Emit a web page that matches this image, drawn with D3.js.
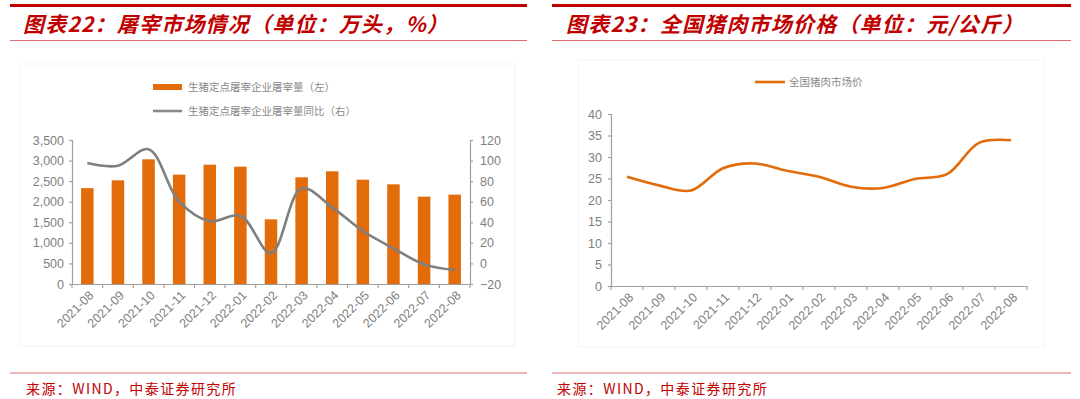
<!DOCTYPE html>
<html>
<head>
<meta charset="utf-8">
<script src="https://cdn.jsdelivr.net/npm/d3@7"></script>
<style>
  html, body { margin: 0; padding: 0; background: #fff; }
  svg { display: block; }
</style>
</head>
<body>
<svg id="chart" width="1080" height="399"></svg>
<script>
// ---- data ----
const categories = ['2021-08','2021-09','2021-10','2021-11','2021-12','2022-01','2022-02','2022-03','2022-04','2022-05','2022-06','2022-07','2022-08'];
const slaughterVolume = [2330, 2520, 3030, 2658, 2900, 2852, 1572, 2593, 2739, 2536, 2423, 2123, 2172];
const slaughterYoY = [97.6, 95, 111, 60, 41, 46.4, 10, 73, 54.5, 31.5, 14.7, -0.9, -6.4];
const porkPrice = [25.4, 23.4, 22.2, 27.4, 28.5, 26.8, 25.4, 23.1, 22.8, 24.9, 26.0, 33.3, 33.9];
const leftTicks = [0, 500, 1000, 1500, 2000, 2500, 3000, 3500];
const rightTicks = [-20, 0, 20, 40, 60, 80, 100, 120];
const priceTicks = [0, 5, 10, 15, 20, 25, 30, 35, 40];
const title1 = '图表22：屠宰市场情况（单位：万头，%）';
const title2 = '图表23：全国猪肉市场价格（单位：元/公斤）';
const legend1a = '生猪定点屠宰企业屠宰量（左）';
const legend1b = '生猪定点屠宰企业屠宰量同比（右）';
const legend2 = '全国猪肉市场价';
const source = '来源：WIND，中泰证券研究所';

const svg = d3.select('#chart');
const RED = '#c00000';
const LIGHTRED = '#e07070';
const ORANGE = '#e36c0a';
const AXIS = '#a0a0a0';
const TICKTXT = '#7f7f7f';
const NUMFONT = '"Liberation Sans", Arial, sans-serif';
const CJK = '"Noto Sans CJK SC", "Noto Sans", sans-serif';

function panelFrame(x0, x1, titleX, title, srcX) {
  svg.append('line').attr('x1', x0).attr('x2', x1).attr('y1', 5.5).attr('y2', 5.5)
    .attr('stroke', RED).attr('stroke-width', 3);
  svg.append('text').attr('x', titleX).attr('y', 32)
    .attr('font-family', CJK).attr('font-size', 21).attr('font-weight', 'bold')
    .attr('font-style', 'italic').attr('letter-spacing', 1.2).attr('fill', RED).text(title);
  svg.append('line').attr('x1', x0).attr('x2', x1).attr('y1', 40.5).attr('y2', 40.5)
    .attr('stroke', LIGHTRED).attr('stroke-width', 1.2);
  svg.append('line').attr('x1', x0).attr('x2', x1).attr('y1', 373).attr('y2', 373)
    .attr('stroke', LIGHTRED).attr('stroke-width', 1.2);
  svg.append('text').attr('x', srcX).attr('y', 394)
    .attr('font-family', CJK).attr('font-size', 14).attr('letter-spacing', 1.4).attr('fill', RED).text(source);
}

panelFrame(10, 527, 23, title1, 26);
panelFrame(552, 1071, 566, title2, 557);

// faint chart area boxes
svg.append('rect').attr('x', 20).attr('y', 64).attr('width', 495).attr('height', 282)
  .attr('fill', 'none').attr('stroke', '#f3f3f3');
svg.append('rect').attr('x', 578).attr('y', 60).attr('width', 466).attr('height', 287)
  .attr('fill', 'none').attr('stroke', '#f3f3f3');

function styleAxis(g) {
  g.selectAll('.domain').attr('stroke', AXIS).attr('stroke-width', 1.2);
  g.selectAll('.tick line').attr('stroke', AXIS).attr('stroke-width', 1.2);
  g.selectAll('.tick text').attr('fill', TICKTXT).attr('font-family', NUMFONT).attr('font-size', 12.5);
}

function xAxisBand(x, yPos) {
  const g = svg.append('g').attr('transform', `translate(0,${yPos})`);
  g.append('line').attr('x1', x.range()[0]).attr('x2', x.range()[1]).attr('y1', 0.5).attr('y2', 0.5)
    .attr('stroke', AXIS).attr('stroke-width', 1.2);
  const bounds = categories.map(c => x(c)).concat([x.range()[1]]);
  g.selectAll('line.tk').data(bounds).join('line').attr('class', 'tk')
    .attr('x1', d => d).attr('x2', d => d).attr('y1', 0).attr('y2', 4)
    .attr('stroke', AXIS).attr('stroke-width', 1.2);
  g.selectAll('text').data(categories).join('text')
    .attr('transform', d => `translate(${x(d) + x.bandwidth() / 2 + 4},${9}) rotate(-45)`)
    .attr('text-anchor', 'end').attr('dy', '0.35em')
    .attr('fill', TICKTXT).attr('font-family', NUMFONT).attr('font-size', 12.5)
    .text(d => d);
}

// ---- Left chart ----
(function () {
  const L = 72, R = 470, T = 140, B = 284;
  const x = d3.scaleBand().domain(categories).range([L, R]);
  const yL = d3.scaleLinear().domain([0, 3500]).range([B, T]);
  const yR = d3.scaleLinear().domain([-20, 120]).range([B, T]);
  const barW = 12.5;

  svg.append('g').selectAll('rect').data(categories).join('rect')
    .attr('x', d => x(d) + x.bandwidth() / 2 - barW / 2)
    .attr('y', (d, i) => yL(slaughterVolume[i]))
    .attr('width', barW)
    .attr('height', (d, i) => yL(0) - yL(slaughterVolume[i]))
    .attr('fill', ORANGE);

  const line = d3.line()
    .x((d, i) => x(categories[i]) + x.bandwidth() / 2)
    .y(d => yR(d))
    .curve(d3.curveCatmullRom.alpha(0.5));
  svg.append('path').datum(slaughterYoY).attr('d', line)
    .attr('fill', 'none').attr('stroke', '#7f7f7f').attr('stroke-width', 2.6);

  const ga = svg.append('g').attr('transform', `translate(${L},0)`)
    .call(d3.axisLeft(yL).tickValues(leftTicks).tickFormat(d3.format(',')).tickSizeOuter(0).tickSize(3).tickPadding(5));
  styleAxis(ga);
  const gb = svg.append('g').attr('transform', `translate(${R},0)`)
    .call(d3.axisRight(yR).tickValues(rightTicks).tickSizeOuter(0).tickSize(3).tickPadding(7));
  styleAxis(gb);
  xAxisBand(x, B);

  // legend
  svg.append('rect').attr('x', 153).attr('y', 84).attr('width', 29).attr('height', 6).attr('fill', ORANGE);
  svg.append('text').attr('x', 188).attr('y', 91).attr('font-family', CJK).attr('font-size', 10.5)
    .attr('fill', '#8a8a8a').text(legend1a);
  svg.append('line').attr('x1', 153).attr('x2', 182).attr('y1', 111).attr('y2', 111)
    .attr('stroke', '#8a8a8a').attr('stroke-width', 2.6);
  svg.append('text').attr('x', 188).attr('y', 115).attr('font-family', CJK).attr('font-size', 10.5)
    .attr('fill', '#8a8a8a').text(legend1b);
})();

// ---- Right chart ----
(function () {
  const L = 611, R = 1027, T = 114, B = 286;
  const x = d3.scaleBand().domain(categories).range([L, R]);
  const y = d3.scaleLinear().domain([0, 40]).range([B, T]);

  const line = d3.line()
    .x((d, i) => x(categories[i]) + x.bandwidth() / 2)
    .y(d => y(d))
    .curve(d3.curveCatmullRom.alpha(0.5));
  svg.append('path').datum(porkPrice).attr('d', line)
    .attr('fill', 'none').attr('stroke', ORANGE).attr('stroke-width', 2.6);

  const ga = svg.append('g').attr('transform', `translate(${L},0)`)
    .call(d3.axisLeft(y).tickValues(priceTicks).tickSizeOuter(0).tickSize(3).tickPadding(6));
  styleAxis(ga);
  xAxisBand(x, B);

  svg.append('line').attr('x1', 755).attr('x2', 785).attr('y1', 82).attr('y2', 82)
    .attr('stroke', ORANGE).attr('stroke-width', 2.6);
  svg.append('text').attr('x', 789).attr('y', 86).attr('font-family', CJK).attr('font-size', 10.5)
    .attr('fill', '#8a8a8a').text(legend2);
})();
</script>
</body>
</html>
